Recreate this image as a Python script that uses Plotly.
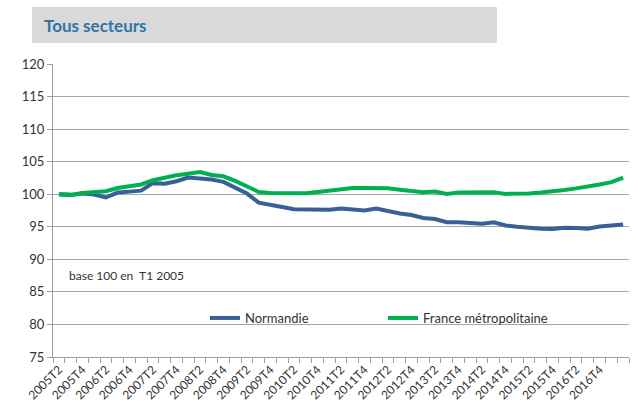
import plotly.graph_objects as go

categories = []
for yr in range(2005, 2018):
    for q in (1, 2, 3, 4):
        if (yr == 2005 and q < 2) or (yr == 2017 and q > 2):
            continue
        categories.append(f"{yr}T{q}")

normandie = [100.0, 99.9, 100.1, 99.95, 99.5, 100.25, 100.4, 100.55, 101.7, 101.6,
             102.0, 102.55, 102.4, 102.25, 101.9, 101.0, 100.1, 98.7, 98.3, 98.05,
             97.7, 97.7, 97.6, 97.6, 97.8, 97.7, 97.5, 97.8, 97.35, 97.05,
             96.8, 96.35, 96.2, 95.7, 95.7, 95.55, 95.45, 95.7, 95.2, 95.0,
             94.8, 94.7, 94.65, 94.85, 94.8, 94.7, 95.05, 95.25, 95.35]

france = [100.0, 99.9, 100.2, 100.35, 100.45, 100.95, 101.3, 101.5, 102.15, 102.55,
          102.9, 103.15, 103.4, 102.95, 102.75, 102.05, 101.2, 100.35, 100.2, 100.2,
          100.1, 100.15, 100.35, 100.55, 100.8, 100.95, 100.95, 101.0, 100.9, 100.7,
          100.55, 100.3, 100.4, 100.05, 100.25, 100.3, 100.3, 100.3, 100.05, 100.05,
          100.1, 100.25, 100.4, 100.65, 100.9, 101.15, 101.5, 101.85, 102.55]

label_every = 2
last_label = "2016T4"

xs = list(range(len(categories)))
tick_idx = [i for i in xs if i % label_every == 0 and i <= categories.index(last_label)]

FONT = "Lato"
fig = go.Figure()
fig.add_trace(go.Scatter(x=xs, y=normandie, mode="lines", name="Normandie",
                         line=dict(color="#376196", width=4)))
fig.add_trace(go.Scatter(x=xs, y=france, mode="lines", name="France métropolitaine",
                         line=dict(color="#00B050", width=4)))

L, R, T, B = 53, 14, 64, 53
W, H = 643, 410
pw, ph = W - L - R, H - T - B

def px(x):
    return (x - L) / pw

def py(y):
    return (H - B - y) / ph

fig.update_layout(
    width=W, height=H,
    margin=dict(l=L, r=R, t=T, b=B, autoexpand=False),
    paper_bgcolor="white", plot_bgcolor="white",
    font=dict(family=FONT, size=12, color="#333333"),
    showlegend=True,
    legend=dict(orientation="h", x=px(205), y=py(318), yanchor="middle", xanchor="left",
                bgcolor="rgba(0,0,0,0)", font=dict(size=13, color="#333333"),
                entrywidth=133, entrywidthmode="pixels", itemwidth=30),
    xaxis=dict(range=[-0.5, len(categories) - 0.5], tickmode="array",
               tickvals=tick_idx, ticktext=[categories[i] for i in tick_idx],
               tickangle=-45, ticks="", showgrid=False, showline=True,
               linecolor="#9E9E9E", linewidth=1, zeroline=False, automargin=False,
               tickfont=dict(size=12, color="#333333"),
               minor=dict(tickmode="linear", tick0=-0.5, dtick=1, ticks="outside",
                          ticklen=5, tickcolor="#9E9E9E", showgrid=False)),
    yaxis=dict(range=[75, 120], dtick=5, showgrid=True, gridcolor="#A6A6A6",
               gridwidth=1, showline=True, linecolor="#9E9E9E", linewidth=1,
               ticks="outside", ticklen=5, tickcolor="#9E9E9E", zeroline=False,
               automargin=False, tickfont=dict(size=13, color="#333333")),
    shapes=[dict(type="rect", xref="paper", yref="paper",
                 x0=px(32), x1=px(497), y0=py(43), y1=py(7),
                 fillcolor="#D9D9D9", line=dict(width=0), layer="below")],
    annotations=[
        dict(text="<b>Tous secteurs</b>", xref="paper", yref="paper",
             x=px(42), y=py(25), xanchor="left", yanchor="middle", showarrow=False,
             font=dict(family=FONT, size=17, color="#2F74A5")),
        dict(text="base 100 en  T1 2005", xref="paper", yref="paper",
             x=px(67), y=py(275), xanchor="left", yanchor="middle", showarrow=False,
             font=dict(family=FONT, size=12, color="#333333")),
    ],
)

fig.write_html("out.html", config={"displayModeBar": False},
               post_script="document.body.style.margin='0';document.body.style.overflow='hidden';")
